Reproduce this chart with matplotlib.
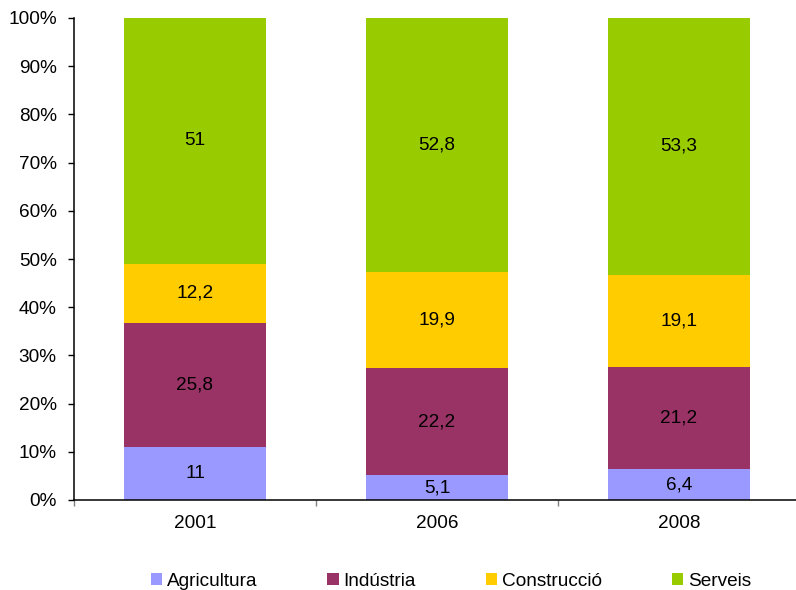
import matplotlib.pyplot as plt
import numpy as np

years = ['2001', '2006', '2008']
sectors = ['Agricultura', 'Indústria', 'Construcció', 'Serveis']
agricultura = [11, 5.1, 6.4]
industria = [25.8, 22.2, 21.2]
construccio = [12.2, 19.9, 19.1]
serveis = [51, 52.8, 53.3]
colors = ['#9999FF', '#993366', '#FFCC00', '#99CC00']

plt.rcParams['font.family'] = ['Liberation Sans', 'DejaVu Sans']
fs = 13.7

fig = plt.figure(figsize=(7.96, 5.90), dpi=100)
ax = fig.add_axes([74 / 796, 90 / 590, 726 / 796, 482 / 590])

x = np.arange(len(years))
bottom = np.zeros(len(years))
for name, vals, col in zip(sectors, [agricultura, industria, construccio, serveis], colors):
    vals = np.array(vals)
    ax.bar(x, vals, 0.59, bottom=bottom, color=col, label=name)
    for xi, b, v in zip(x, bottom, vals):
        ax.text(xi, b + v / 2, f'{v:g}'.replace('.', ','), ha='center', va='center', fontsize=fs)
    bottom += vals

ax.set_xlim(-0.5, 2.5)
ax.set_ylim(0, 100)
ax.set_yticks(range(0, 101, 10))
ax.set_yticklabels([f'{v}%' for v in range(0, 101, 10)], fontsize=fs)
ax.set_xticks(x)
ax.set_xticklabels(years, fontsize=fs)
ax.set_xticks([-0.5, 0.5, 1.5, 2.5], minor=True)
ax.tick_params(axis='x', which='major', length=0, pad=11)
ax.tick_params(axis='x', which='minor', length=4, color='#808080', width=1)
ax.tick_params(axis='y', length=4, width=1, pad=8.5)

for s in ['top', 'right']:
    ax.spines[s].set_visible(False)
ax.spines['left'].set_linewidth(1.1)
ax.spines['bottom'].set_linewidth(1.1)

fig.legend(loc='center', bbox_to_anchor=(451 / 796, 9 / 590), ncol=4, frameon=False,
           fontsize=fs, handlelength=0.6, handleheight=0.6, handletextpad=0.25,
           columnspacing=3.68, borderpad=0)

fig.savefig('out.png', dpi=100)
